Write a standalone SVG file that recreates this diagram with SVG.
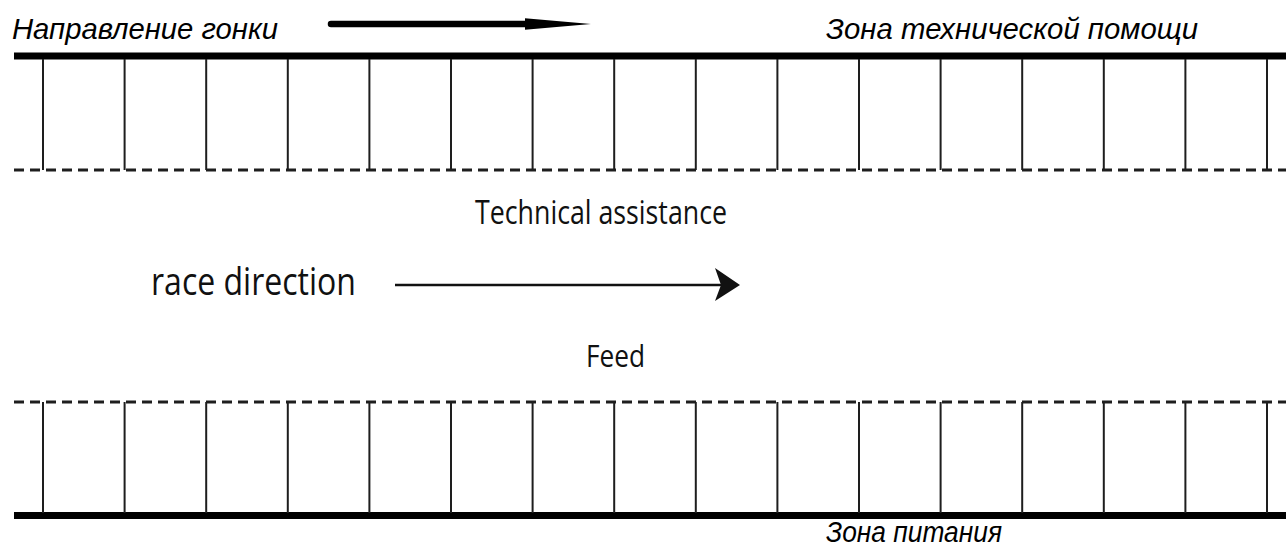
<svg xmlns="http://www.w3.org/2000/svg" width="1286" height="550" viewBox="0 0 1286 550">
<style>
.ru{font-family:"Liberation Sans",Arial,sans-serif;font-style:italic;font-size:29px;fill:#000}
.en{font-family:"Open Sans","Liberation Sans",sans-serif;fill:#111}
.thick{stroke:#000;stroke-width:7;fill:none}
.post{stroke:#1e1e1e;stroke-width:2;fill:none}
.dash{stroke:#1e1e1e;stroke-width:3;stroke-dasharray:10 6;fill:none}
</style>
<rect width="1286" height="550" fill="#fff"/>
<g id="labels">
<text class="ru" x="12" y="39" textLength="266" lengthAdjust="spacingAndGlyphs">Направление гонки</text>
<text class="ru" x="826" y="39" textLength="372" lengthAdjust="spacingAndGlyphs">Зона технической помощи</text>
<text class="ru" x="826" y="542" textLength="176" lengthAdjust="spacingAndGlyphs">Зона питания</text>
<text class="en" x="475" y="224" font-size="32" textLength="252" lengthAdjust="spacingAndGlyphs">Technical assistance</text>
<text class="en" x="151" y="295" font-size="38" textLength="205" lengthAdjust="spacingAndGlyphs">race direction</text>
<text class="en" x="586" y="367" font-size="31" textLength="59" lengthAdjust="spacingAndGlyphs">Feed</text>
</g>
<g id="top-zone">
<line class="thick" x1="14" y1="56" x2="1286" y2="56"/>
<line class="dash" x1="14" y1="170" x2="1286" y2="170"/>
<path class="post" d="M43,59V170M124.6,59V170M206.2,59V170M287.8,59V170M369.4,59V170M451,59V170M532.6,59V170M614.2,59V170M695.8,59V170M777.4,59V170M859,59V170M940.6,59V170M1022.2,59V170M1103.8,59V170M1185.4,59V170M1267,59V170"/>
</g>
<g id="bottom-zone">
<line class="dash" x1="14" y1="402" x2="1286" y2="402"/>
<line class="thick" x1="14" y1="515.5" x2="1286" y2="515.5"/>
<path class="post" d="M43,402V513M124.6,402V513M206.2,402V513M287.8,402V513M369.4,402V513M451,402V513M532.6,402V513M614.2,402V513M695.8,402V513M777.4,402V513M859,402V513M940.6,402V513M1022.2,402V513M1103.8,402V513M1185.4,402V513M1267,402V513"/>
</g>
<g id="connectors">
<line x1="331" y1="24" x2="527" y2="24" stroke="#000" stroke-width="6.5" stroke-linecap="round"/>
<path d="M525,18.3L591,24L525,29.7Z" fill="#000"/>
<line x1="395" y1="285" x2="722" y2="285" stroke="#111" stroke-width="2.5"/>
<path d="M740,285L715,268L721,285L715,301Z" fill="#111"/>
</g>
</svg>
